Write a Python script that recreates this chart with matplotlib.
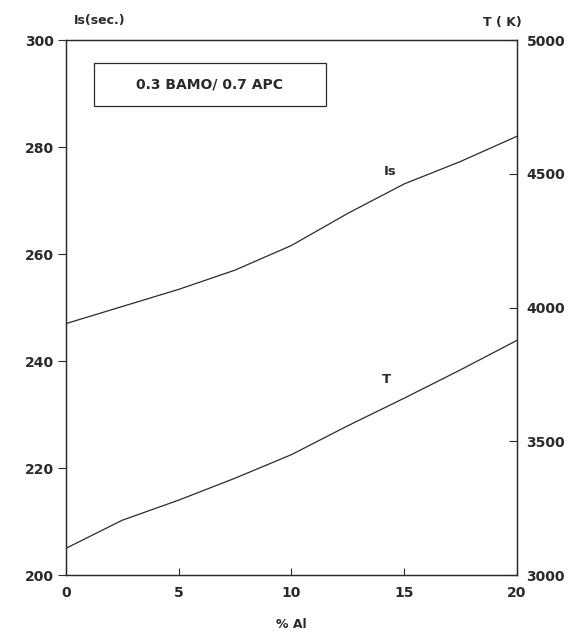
import matplotlib
matplotlib.use("Agg")
import matplotlib.pyplot as plt
from matplotlib.patches import Rectangle

# values
al_pct = [0, 2.5, 5, 7.5, 10, 12.5, 15, 17.5, 20]
isp_sec = [247.0, 250.2, 253.4, 257.0, 261.6, 267.6, 273.1, 277.3, 282.0]
temp_k = [3100, 3205, 3280, 3362, 3450, 3558, 3661, 3767, 3877]

left_ticks = [200, 220, 240, 260, 280, 300]
right_ticks = [3000, 3500, 4000, 4500, 5000]
x_ticks = [0, 5, 10, 15, 20]

plt.rcParams['font.family'] = ['DejaVu Sans']
ink = '#2a2a2a'

fig = plt.figure(figsize=(5.75, 6.37), dpi=100)
ax = fig.add_axes([0.1148, 0.0973, 0.784, 0.8398])
ax2 = ax.twinx()

ax.plot(al_pct, isp_sec, color=ink, lw=0.9)
ax2.plot(al_pct, temp_k, color=ink, lw=0.9)

ax.set_xlim(0, 20)
ax.set_ylim(200, 300)
ax2.set_ylim(3000, 5000)

ax.set_xticks(x_ticks)
ax.set_yticks(left_ticks)
ax2.set_yticks(right_ticks)

ax.tick_params(axis='x', direction='in', length=5, pad=8, labelsize=10, colors=ink)
ax.tick_params(axis='y', direction='out', length=6, pad=3, labelsize=10, colors=ink)
ax2.tick_params(axis='y', direction='in', length=6, pad=7, labelsize=10, colors=ink)
for lab in ax.get_xticklabels() + ax.get_yticklabels() + ax2.get_yticklabels():
    lab.set_fontweight('bold')

for a in (ax, ax2):
    for s in a.spines.values():
        s.set_linewidth(0.9)
        s.set_color(ink)

ax.set_xlabel('% Al', fontsize=9, fontweight='bold', color=ink, labelpad=13)

# axis titles at the corners
ax.text(0.075, 1.025, 'Is(sec.)', transform=ax.transAxes, ha='center', va='bottom',
        fontsize=9, fontweight='bold', color=ink)
ax.text(1.01, 1.02, 'T ( K)', transform=ax.transAxes, ha='right', va='bottom',
        fontsize=9, fontweight='bold', color=ink)

# boxed mixture label
ax.add_patch(Rectangle((0.062, 0.877), 0.514, 0.08, transform=ax.transAxes,
                       fill=False, lw=0.9, edgecolor=ink))
ax.text(0.319, 0.917, '0.3 BAMO/ 0.7 APC', transform=ax.transAxes, ha='center',
        va='center', fontsize=10, fontweight='bold', color=ink)

# curve labels
ax.text(14.4, 275.5, 'Is', ha='center', va='center', fontsize=9.5, fontweight='bold', color=ink)
ax.text(14.2, 236.5, 'T', ha='center', va='center', fontsize=9.5, fontweight='bold', color=ink)

fig.savefig('out.png', dpi=100)
